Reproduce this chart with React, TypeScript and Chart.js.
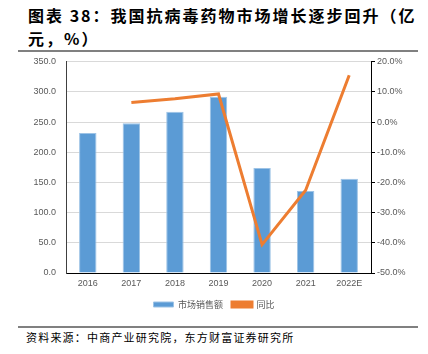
import React, { useEffect, useRef } from "react";
import { Chart, registerables } from "chart.js";

Chart.register(...registerables);

const categories = ["2016", "2017", "2018", "2019", "2020", "2021", "2022E"];
const salesValues = [232, 248, 267, 292, 174, 136, 156];
const yoyValues: (number | null)[] = [null, 6.5, 7.7, 9.3, -40.6, -22.6, 15.5];
const salesLabel = "市场销售额";
const yoyLabel = "同比";
const titleLine1 = "图表 38：我国抗病毒药物市场增长逐步回升（亿";
const titleLine2 = "元，%）";
const sourceText = "资料来源：中商产业研究院，东方财富证券研究所";

const tickFont = { family: "'Liberation Sans', Arial, sans-serif", size: 9 };
const tickColor = "#595959";

export default function App() {
  const canvasRef = useRef<HTMLCanvasElement | null>(null);

  useEffect(() => {
    document.body.style.margin = "0";
    const canvas = canvasRef.current;
    if (!canvas) return;
    const chart = new Chart(canvas, {
      type: "bar",
      data: {
        labels: categories,
        datasets: [
          {
            type: "bar",
            label: salesLabel,
            data: salesValues,
            backgroundColor: "#5b9bd5",
            borderColor: "#9dc3e6",
            borderWidth: 1,
            barPercentage: 0.4,
            categoryPercentage: 1,
            yAxisID: "y",
            order: 1,
          },
          {
            type: "line",
            label: yoyLabel,
            data: yoyValues,
            borderColor: "#ed7d31",
            backgroundColor: "#ed7d31",
            borderWidth: 3,
            pointRadius: 0,
            tension: 0,
            yAxisID: "y1",
            order: 0,
          },
        ],
      },
      options: {
        responsive: false,
        animation: false,
        layout: { padding: { top: 11.7, left: 0, right: 0, bottom: 0 } },
        plugins: {
          tooltip: { enabled: false },
          legend: {
            position: "bottom",
            labels: {
              sort: (a: any, b: any) => a.datasetIndex - b.datasetIndex,
              boxWidth: 20,
              boxHeight: 5,
              padding: 9,
              color: tickColor,
              font: { family: "'Noto Sans CJK SC', sans-serif", size: 9 },
            },
          },
        },
        scales: {
          x: {
            grid: { display: false, drawTicks: false },
            border: { display: true, color: "#000000", width: 1 },
            ticks: { color: tickColor, font: tickFont, padding: 5 },
            afterFit: (scale: any) => {
              scale.height = 18;
            },
          },
          y: {
            position: "left",
            min: 0,
            max: 350,
            ticks: {
              stepSize: 50,
              color: tickColor,
              font: tickFont,
              padding: 2,
              callback: (v: any) => Number(v).toFixed(1),
            },
            grid: {
              color: "#d9d9d9",
              lineWidth: 1,
              drawTicks: true,
              tickLength: 8,
              tickColor: "rgba(0,0,0,0)",
            },
            border: { display: true, color: "#404040", width: 1 },
            afterFit: (scale: any) => {
              scale.width = 66;
            },
          },
          y1: {
            position: "right",
            min: -50,
            max: 20,
            ticks: {
              stepSize: 10,
              color: tickColor,
              font: tickFont,
              padding: 2,
              callback: (v: any) => Number(v).toFixed(1) + "%",
            },
            grid: {
              drawOnChartArea: false,
              drawTicks: true,
              tickLength: 4,
              color: "#000000",
            },
            border: { display: true, color: "#000000", width: 1 },
            afterFit: (scale: any) => {
              scale.width = 57;
            },
          },
        },
      },
    } as any);
    return () => {
      chart.destroy();
    };
  }, []);

  return (
    <div style={{ position: "fixed", left: 0, top: 0, width: 428, height: 354, background: "#ffffff", overflow: "hidden" }}>
      <div
        style={{
          position: "absolute",
          left: 28,
          top: 4,
          fontFamily: "'Noto Sans CJK SC', sans-serif",
          fontWeight: 700,
          fontSize: 16,
          letterSpacing: 2,
          lineHeight: "23px",
          color: "#000000",
          whiteSpace: "nowrap",
        }}
      >
        {titleLine1}
        <br />
        {titleLine2}
      </div>
      <div style={{ position: "absolute", left: 18, top: 50, width: 400, height: 1.5, background: "#808080" }} />
      <canvas ref={canvasRef} width={428} height={269} style={{ position: "absolute", left: 0, top: 50, display: "block" }} />
      <div style={{ position: "absolute", left: 18, top: 326, width: 400, height: 1.5, background: "#808080" }} />
      <div
        style={{
          position: "absolute",
          left: 26,
          top: 329,
          fontFamily: "'Noto Sans CJK SC', sans-serif",
          fontSize: 11,
          letterSpacing: 1.2,
          lineHeight: "16px",
          color: "#000000",
          whiteSpace: "nowrap",
        }}
      >
        {sourceText}
      </div>
    </div>
  );
}
